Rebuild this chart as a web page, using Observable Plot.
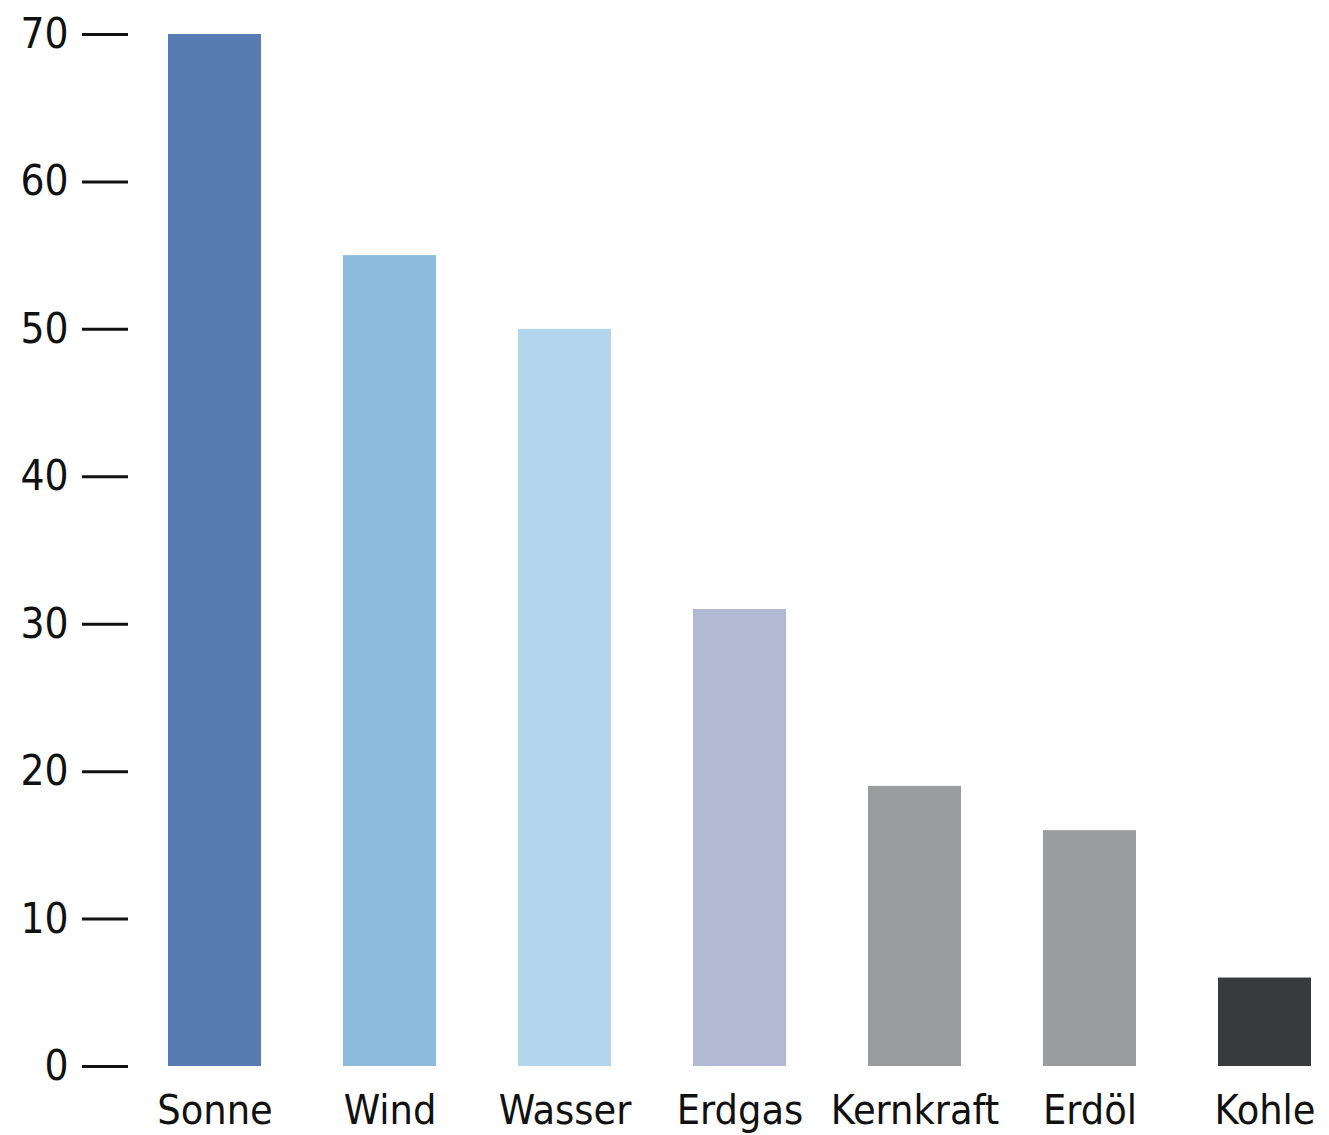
<!DOCTYPE html>
<html>
<head>
<meta charset="utf-8">
<script src="https://cdn.jsdelivr.net/npm/d3@7"></script>
<script src="https://cdn.jsdelivr.net/npm/@observablehq/plot@0.6"></script>
<style>
  html, body { margin: 0; padding: 0; background: #fff; }
  #chart svg { display: block; }
</style>
</head>
<body>
<div id="chart"></div>
<script>
const categories = ["Sonne", "Wind", "Wasser", "Erdgas", "Kernkraft", "Erdöl", "Kohle"];
const values = [70, 55, 50, 31, 19, 16, 6];
const colors = ["#587bb4", "#8bbcdc", "#b4d6ec", "#b1b9d3", "#9b9c9e", "#9b9c9e", "#393a3c"];
const yTicks = [0, 10, 20, 30, 40, 50, 60, 70];

const data = categories.map((c, i) => ({category: c, value: values[i], color: colors[i]}));

const chart = Plot.plot({
  width: 1329,
  height: 1135,
  marginLeft: 128,
  marginRight: 0,
  marginTop: 34,
  marginBottom: 69,
  style: {fontFamily: "'DejaVu Sans Condensed', 'DejaVu Sans', sans-serif", fontStretch: "condensed", color: "#111", background: "#fff"},
  x: {domain: categories, range: [126, 1353], paddingInner: 0.47, paddingOuter: 0.235},
  y: {domain: [0, 70]},
  marks: [
    Plot.barY(data, {x: "category", y: "value", fill: "color"}),
    Plot.axisY({ticks: yTicks, tickSize: 46, tickPadding: 14, fontSize: 42, strokeWidth: 3, label: null, stroke: "#111"}),
    Plot.axisX({tickSize: 0, tickPadding: 28, fontSize: 41, label: null})
  ]
});
document.getElementById("chart").appendChild(chart);
</script>
</body>
</html>
